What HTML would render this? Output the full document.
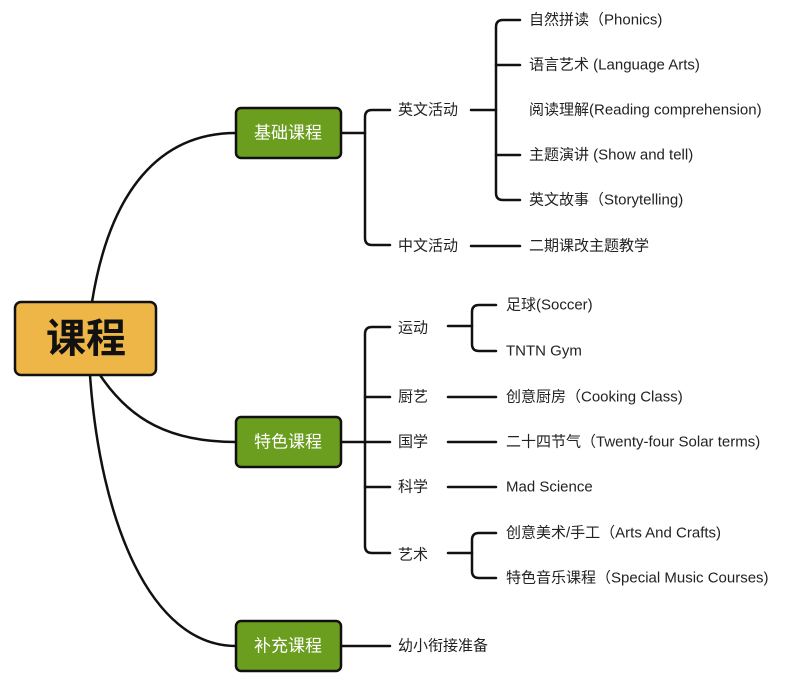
<!DOCTYPE html>
<html><head><meta charset="utf-8"><style>
html,body{margin:0;padding:0;background:#fff;}
svg{display:block;}
text{font-family:"Liberation Sans","Noto Sans CJK SC",sans-serif;fill:#222;font-size:15px;dominant-baseline:central;}
.g{fill:#fff;font-size:17px;text-anchor:middle;}
</style></head><body>
<svg width="804" height="682" viewBox="0 0 804 682">
<g fill="none" stroke="#111" stroke-width="2.5" stroke-linecap="round">
<path d="M92,302 C110,190 160,133 236,133"/>
<path d="M100,375 C130,420 170,442 236,442"/>
<path d="M90,375 C100,520 150,646 236,646"/>
<path d="M341,133 H365"/>
<path d="M390,110 H372 Q365,110 365,117 V238 Q365,245 372,245 H390"/>
<path d="M471,110 H496"/>
<path d="M520,20 H503 Q496,20 496,27 V193 Q496,200 503,200 H520"/>
<path d="M496,65 H520 M496,155 H520"/>
<path d="M471,246 H520"/>
<path d="M341,442 H390"/>
<path d="M390,327 H372 Q365,327 365,334 V546 Q365,553 372,553 H390"/>
<path d="M365,397 H390 M365,487 H390"/>
<path d="M448,326 H472"/>
<path d="M496,305 H479 Q472,305 472,312 V344 Q472,351 479,351 H496"/>
<path d="M448,397 H496 M448,442 H496 M448,487 H496"/>
<path d="M448,553 H472"/>
<path d="M496,533 H479 Q472,533 472,540 V571 Q472,578 479,578 H496"/>
<path d="M341,646 H390"/>
</g>
<rect x="15" y="302" width="141" height="73" rx="6" fill="#EDB646" stroke="#111" stroke-width="2.5"/>
<text x="86" y="339" style="font-size:40px;font-weight:bold;text-anchor:middle;fill:#111">课程</text>
<rect x="236" y="108" width="105" height="50" rx="5" fill="#6B9E1F" stroke="#111" stroke-width="2.5"/>
<text class="g" x="288" y="133">基础课程</text>
<rect x="236" y="417" width="105" height="50" rx="5" fill="#6B9E1F" stroke="#111" stroke-width="2.5"/>
<text class="g" x="288" y="442">特色课程</text>
<rect x="236" y="621" width="105" height="50" rx="5" fill="#6B9E1F" stroke="#111" stroke-width="2.5"/>
<text class="g" x="288" y="646">补充课程</text>
<text x="398" y="110">英文活动</text>
<text x="398" y="246">中文活动</text>
<text x="529" y="20">自然拼读（Phonics)</text>
<text x="529" y="65">语言艺术 (Language Arts)</text>
<text x="529" y="110">阅读理解(Reading comprehension)</text>
<text x="529" y="155">主题演讲 (Show and tell)</text>
<text x="529" y="200">英文故事（Storytelling)</text>
<text x="529" y="246">二期课改主题教学</text>
<text x="398" y="328">运动</text>
<text x="398" y="397">厨艺</text>
<text x="398" y="442">国学</text>
<text x="398" y="487">科学</text>
<text x="398" y="555">艺术</text>
<text x="506" y="305">足球(Soccer)</text>
<text x="506" y="351">TNTN Gym</text>
<text x="506" y="397">创意厨房（Cooking Class)</text>
<text x="506" y="442">二十四节气（Twenty-four Solar terms)</text>
<text x="506" y="487">Mad Science</text>
<text x="506" y="533">创意美术/手工（Arts And Crafts)</text>
<text x="506" y="578">特色音乐课程（Special Music Courses)</text>
<text x="398" y="646">幼小衔接准备</text>
</svg>
</body></html>
